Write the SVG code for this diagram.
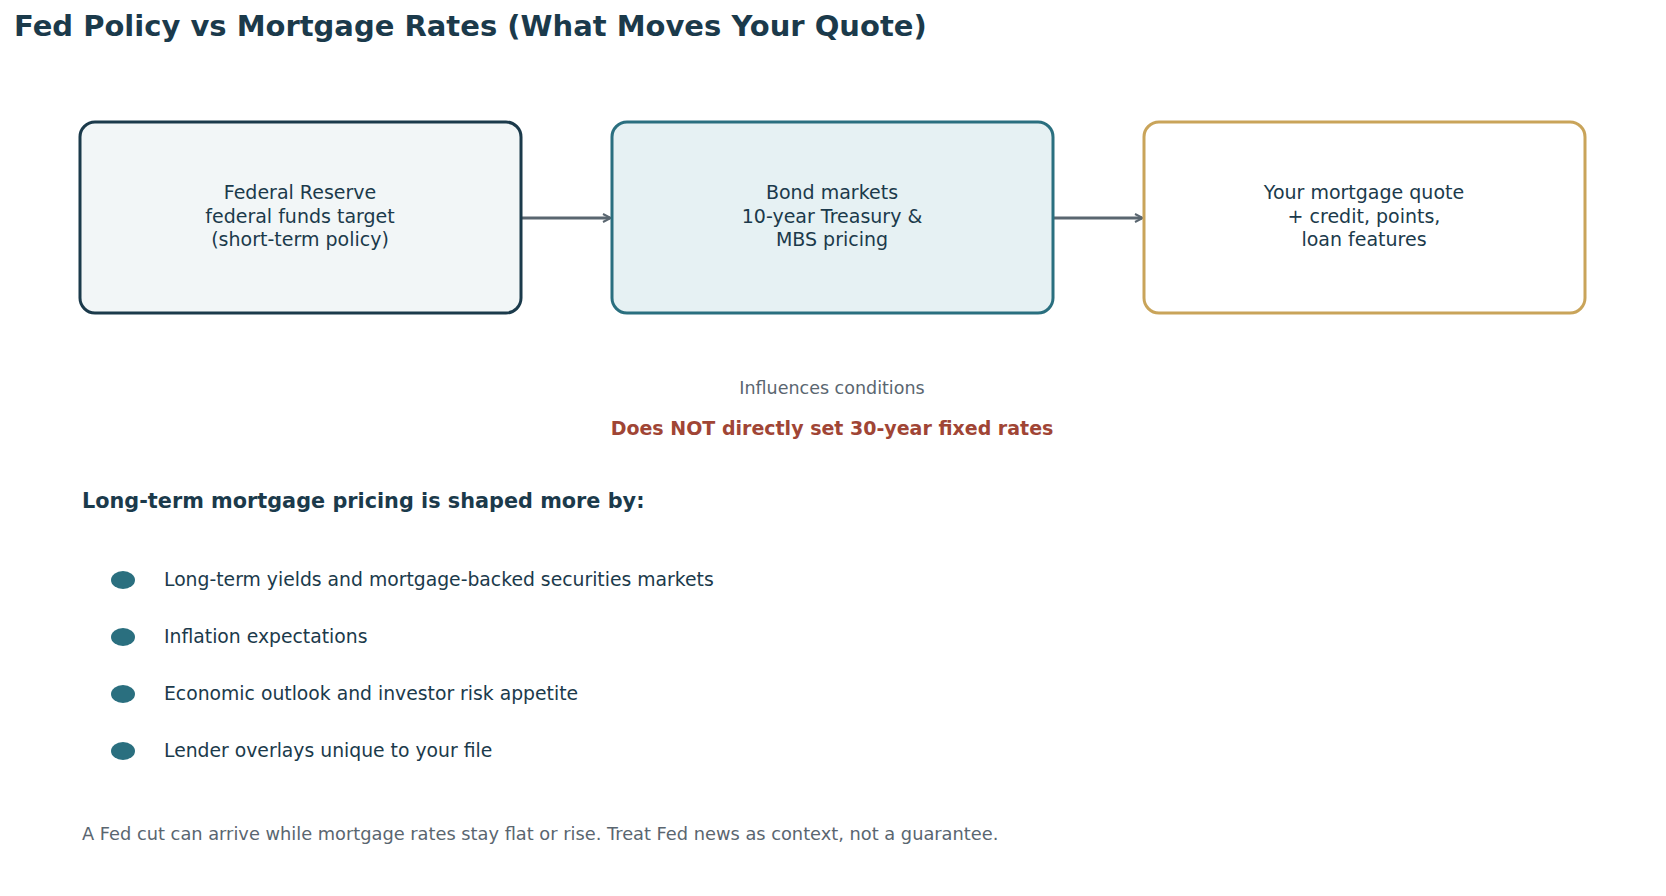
<svg xmlns="http://www.w3.org/2000/svg" width="1666" height="896" viewBox="0 0 1666 896">
<defs><marker id="ah" markerWidth="10" markerHeight="10" refX="8" refY="5" orient="auto" markerUnits="userSpaceOnUse"><path d="M1,1 L9,5 L1,9" fill="none" stroke="#5a6670" stroke-width="2"/></marker></defs>
<style>
text{font-family:"DejaVu Sans",sans-serif;fill:#1b3a4b}
.n{font-size:19px;text-anchor:middle}
.b{font-size:18.8px}
.g{fill:#5a6670}
.dot{fill:#2a6f7f}
</style>
<rect width="1666" height="896" fill="#fff"/>
<text x="14" y="36" style="font-size:29px;font-weight:bold">Fed Policy vs Mortgage Rates (What Moves Your Quote)</text>
<g id="connectors" stroke="#5a6670" stroke-width="3" fill="none">
<line x1="522" y1="218" x2="610" y2="218" marker-end="url(#ah)"/>
<line x1="1054" y1="218" x2="1142" y2="218" marker-end="url(#ah)"/>
</g>
<g id="fed"><rect x="80" y="122" width="441" height="191" rx="15" fill="#f2f6f7" stroke="#1b3a4b" stroke-width="3"/>
<text class="n" x="300" y="199">Federal Reserve</text><text class="n" x="300" y="223">federal funds target</text><text class="n" x="300" y="246">(short-term policy)</text></g>
<g id="bond"><rect x="612" y="122" width="441" height="191" rx="15" fill="#e6f1f3" stroke="#2a6f7f" stroke-width="3"/>
<text class="n" x="832" y="199">Bond markets</text><text class="n" x="832" y="223">10-year Treasury &amp;</text><text class="n" x="832" y="246">MBS pricing</text></g>
<g id="quote"><rect x="1144" y="122" width="441" height="191" rx="15" fill="#fff" stroke="#c9a45a" stroke-width="3"/>
<text class="n" x="1364" y="199">Your mortgage quote</text><text class="n" x="1364" y="223">+ credit, points,</text><text class="n" x="1364" y="246">loan features</text></g>
<text class="n g" x="832" y="394" style="font-size:17.5px">Influences conditions</text>
<text class="n" x="832" y="435" style="font-size:19px;font-weight:bold;fill:#a04535">Does NOT directly set 30-year fixed rates</text>
<text x="82" y="508" style="font-size:20.8px;font-weight:bold">Long-term mortgage pricing is shaped more by:</text>
<g id="bullets">
<ellipse class="dot" cx="123" cy="580" rx="12" ry="9"/><text class="b" x="164" y="586">Long-term yields and mortgage-backed securities markets</text>
<ellipse class="dot" cx="123" cy="637" rx="12" ry="9"/><text class="b" x="164" y="643">Inflation expectations</text>
<ellipse class="dot" cx="123" cy="694" rx="12" ry="9"/><text class="b" x="164" y="700">Economic outlook and investor risk appetite</text>
<ellipse class="dot" cx="123" cy="751" rx="12" ry="9"/><text class="b" x="164" y="757">Lender overlays unique to your file</text>
</g>
<text class="g" x="82" y="840" style="font-size:17.8px">A Fed cut can arrive while mortgage rates stay flat or rise. Treat Fed news as context, not a guarantee.</text>
</svg>
